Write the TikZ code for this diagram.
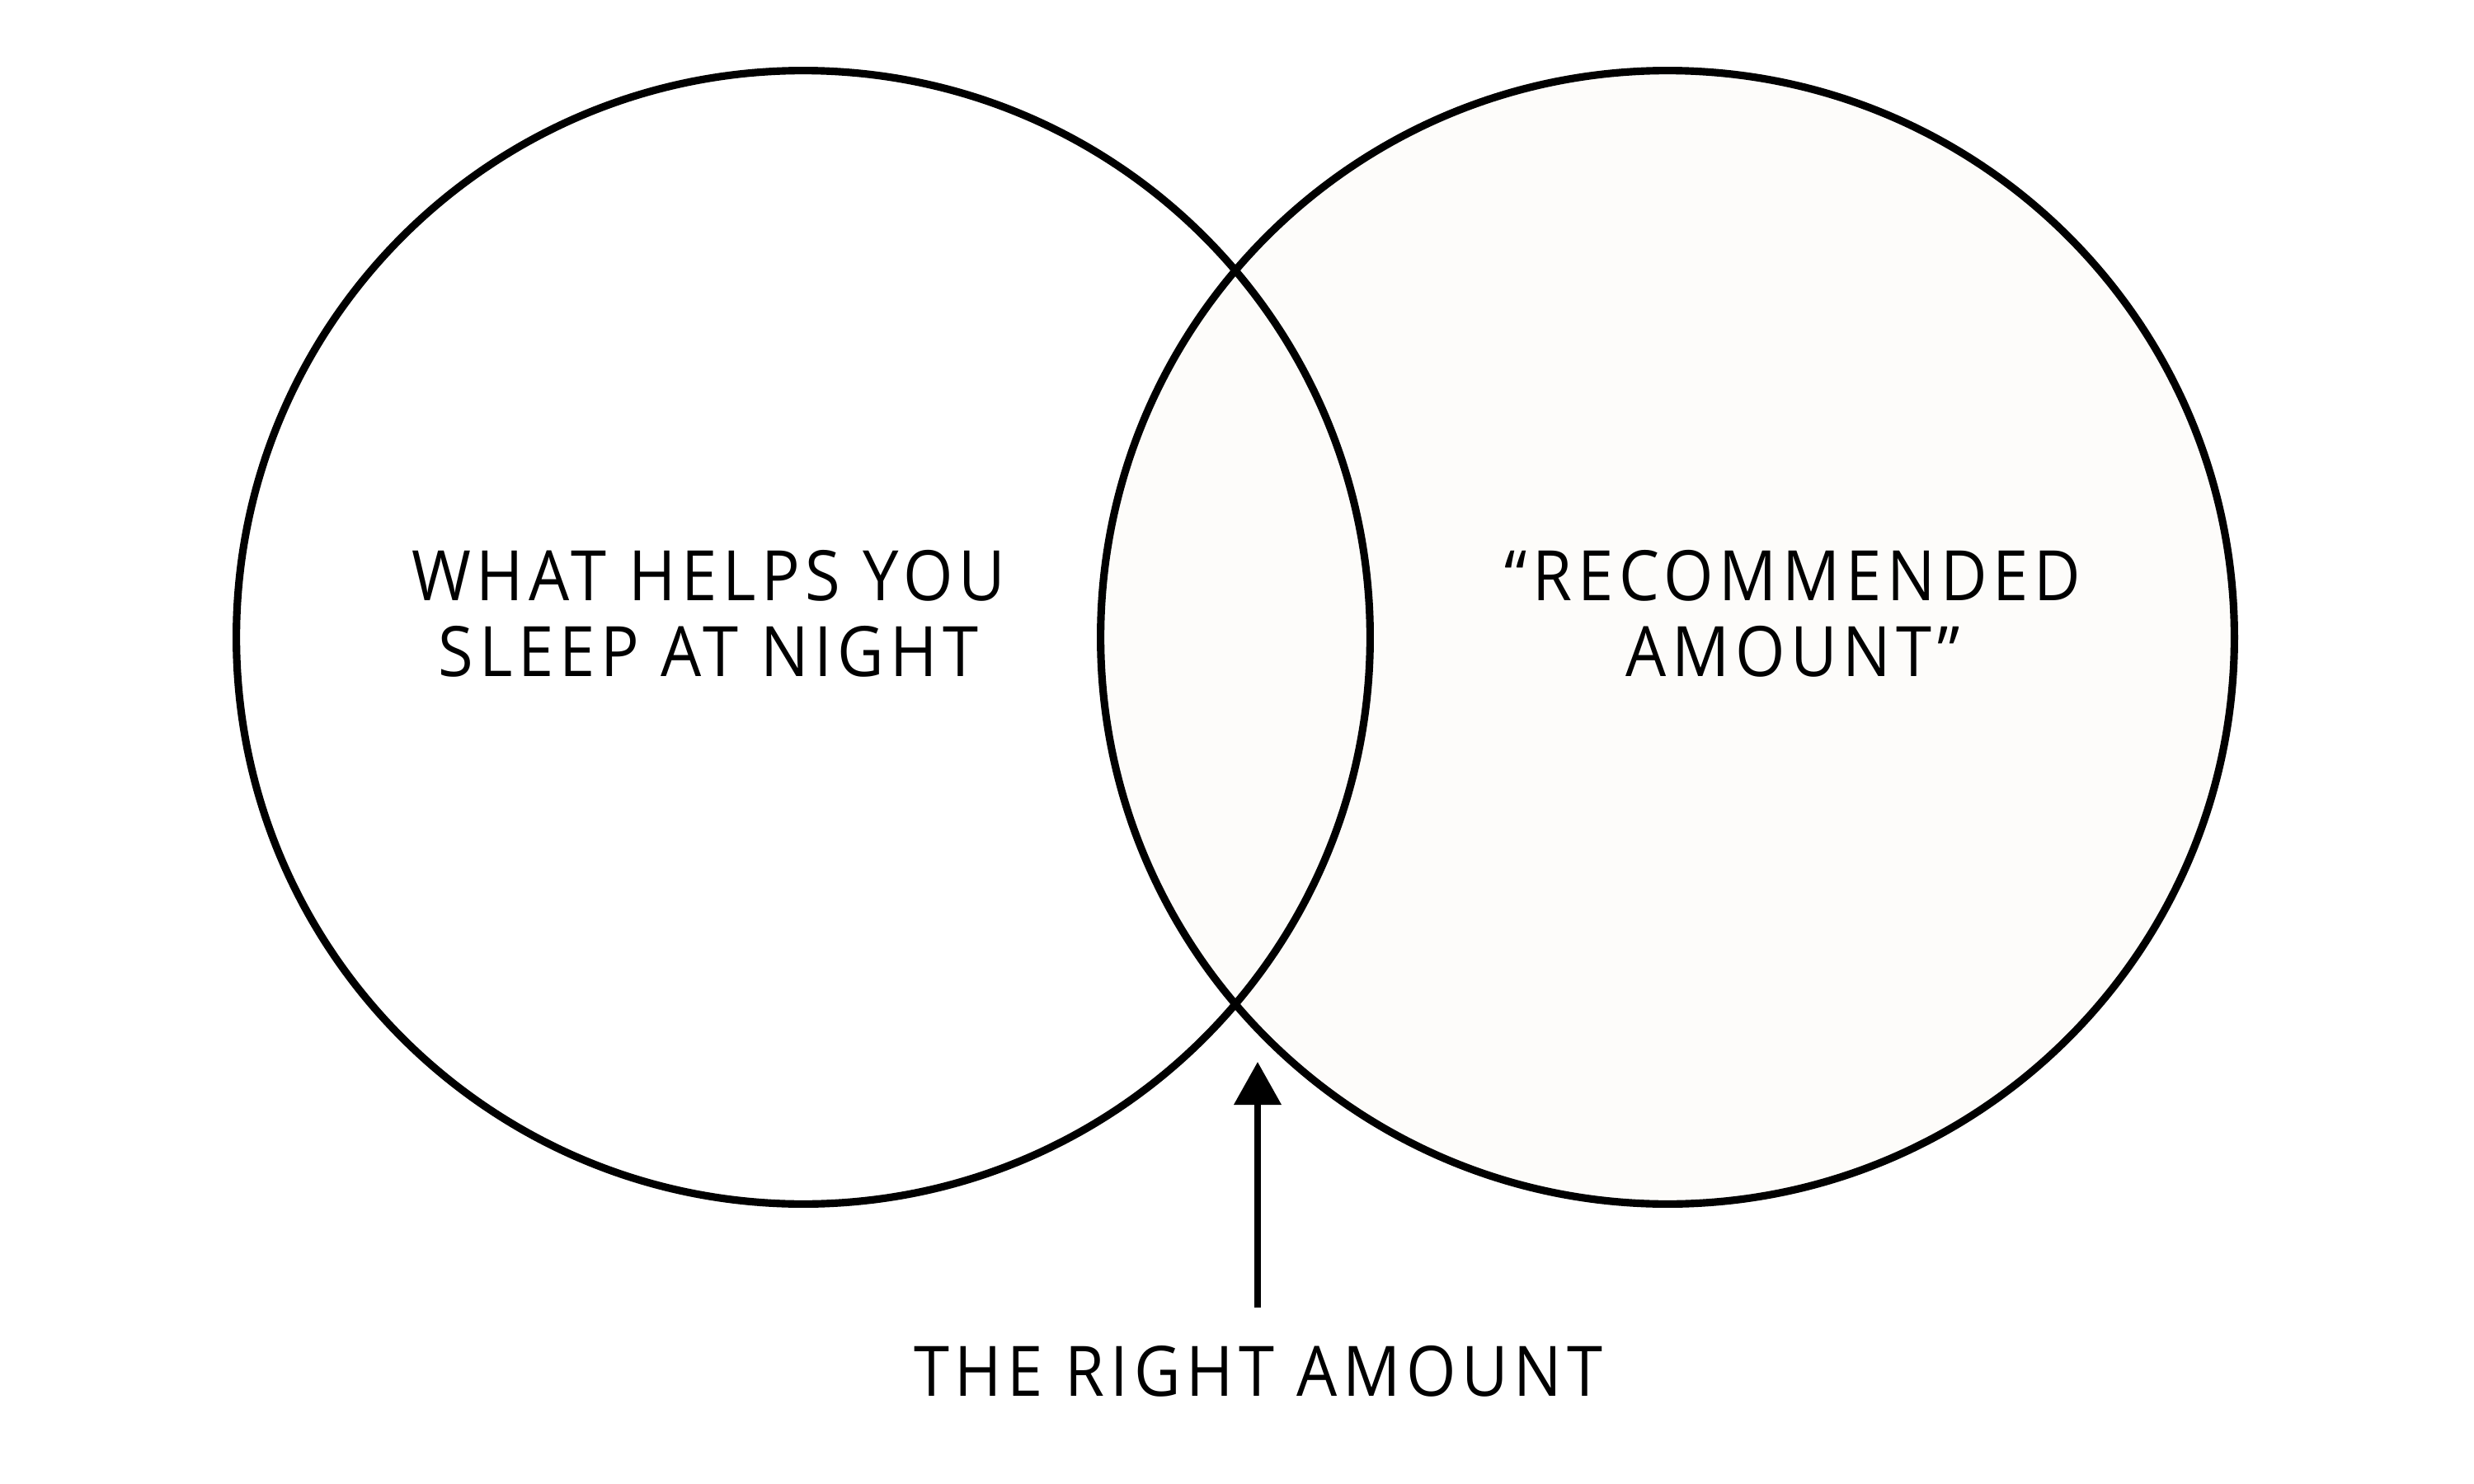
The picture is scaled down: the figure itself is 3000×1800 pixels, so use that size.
\documentclass[tikz,border=0pt]{standalone}
\usepackage{fontspec}
\setmainfont{Open Sans}[FakeStretch=0.92, LetterSpace=8]
\usetikzlibrary{arrows.meta}
\definecolor{offwhite}{RGB}{253,252,250}
\tikzset{
  ring/.style={circle, draw=black, line width=2.6pt, minimum size=13.74cm, inner sep=0pt},
  lbl/.style={font=\fontsize{24}{26.2}\selectfont, align=center, inner sep=0pt},
  pointer/.style={line width=2.1pt, -{Triangle[length=0.52cm, width=0.56cm]}}
}
\begin{document}
\begin{tikzpicture}[x=0.01cm, y=-0.01cm]
\useasboundingbox (0,0) rectangle (3000,1800);
\node[ring, fill=offwhite] (right) at (2022,773) {};
\node[ring] (left) at (974,773) {};
\node[lbl] (ltext) at (859,744) {WHAT HELPS YOU\\SLEEP AT NIGHT};
\node[lbl] (rtext) at (2174,744) {“RECOMMENDED\\AMOUNT”};
\node[lbl] (btext) at (1526,1663) {THE RIGHT AMOUNT};
\coordinate (tail) at (1525,1586);
\coordinate (tip) at (1525,1288);
\draw[pointer] (tail) -- (tip);
\end{tikzpicture}
\end{document}
